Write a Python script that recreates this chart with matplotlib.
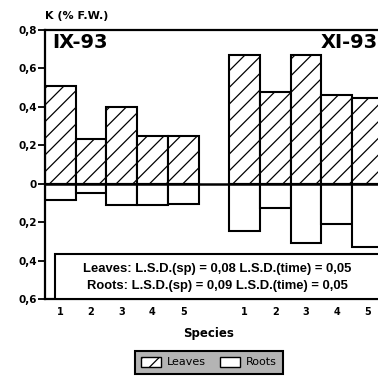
import numpy as np
import matplotlib
matplotlib.use("Agg")
import matplotlib.pyplot as plt
from matplotlib.patches import Rectangle, Patch

species = ["1", "2", "3", "4", "5"]
periods = ["IX-93", "XI-93"]
leaves_ix = [0.51, 0.235, 0.40, 0.25, 0.25]
leaves_xi = [0.67, 0.475, 0.67, 0.46, 0.445]
roots_ix = [-0.087, -0.05, -0.112, -0.112, -0.107]
roots_xi = [-0.245, -0.128, -0.31, -0.21, -0.33]
yticks = [-0.6, -0.4, -0.2, 0, 0.2, 0.4, 0.6, 0.8]
ytick_labels = ["0,6", "0,4", "0,2", "0", "0,2", "0,4", "0,6", "0,8"]
lsd_lines = ["Leaves: L.S.D.(sp) = 0,08 L.S.D.(time) = 0,05",
             "Roots: L.S.D.(sp) = 0,09 L.S.D.(time) = 0,05"]

plt.rcParams["hatch.linewidth"] = 0.9
bold = dict(fontweight="bold", family="DejaVu Sans")

fig = plt.figure(figsize=(3.78, 3.76), dpi=100)
ax = fig.add_axes([45 / 378, 77 / 376, 347 / 378, 269 / 376])

x_ix = np.arange(5) + 0.5
x_xi = np.arange(5) + 6.5
x_all = np.concatenate([x_ix, x_xi])
leaves = leaves_ix + leaves_xi
roots = roots_ix + roots_xi

ax.bar(x_all, leaves, width=1.0, color="white", edgecolor="black",
       linewidth=1.5, hatch="//", label="Leaves")
ax.bar(x_all, roots, width=1.0, color="white", edgecolor="black",
       linewidth=1.5, label="Roots")
ax.axhline(0, color="black", linewidth=1.8, zorder=3)

ax.set_xlim(0, 11.3)
ax.set_ylim(-0.6, 0.8)
ax.set_yticks(yticks)
ax.set_yticklabels(ytick_labels, fontsize=7.5, **bold)
ax.set_xticks(x_all)
ax.set_xticklabels(species * 2, fontsize=7, **bold)
ax.tick_params(axis="x", length=0, pad=6)
ax.tick_params(axis="y", length=5, width=1.3, pad=1)
for side in ["top", "left", "bottom"]:
    ax.spines[side].set_linewidth(1.6)
ax.spines["right"].set_visible(False)

ax.text(0.22, 0.735, periods[0], fontsize=14, va="center", ha="left", **bold)
ax.text(10.85, 0.735, periods[1], fontsize=14, va="center", ha="right", **bold)

box = Rectangle((0.33, -0.6), 12, 0.235, facecolor="white",
                edgecolor="black", linewidth=1.5, zorder=4)
ax.add_patch(box)
ax.text(5.6, -0.445, lsd_lines[0], fontsize=9.4, ha="center", va="center",
        fontweight="bold", family=["Liberation Sans", "DejaVu Sans"],
        zorder=5)
ax.text(5.6, -0.532, lsd_lines[1], fontsize=9.4, ha="center", va="center",
        fontweight="bold", family=["Liberation Sans", "DejaVu Sans"],
        zorder=5)

fig.text(45 / 378, 1 - 16 / 376, "K (% F.W.)", fontsize=8, va="center",
         ha="left", **bold)
fig.text(209 / 378, 1 - 334 / 376, "Species", fontsize=8.5, va="center",
         ha="center", **bold)

handles = [Patch(facecolor="white", edgecolor="black", hatch="//", label="Leaves"),
           Patch(facecolor="white", edgecolor="black", label="Roots")]
leg = fig.legend(handles=handles, loc="center", bbox_to_anchor=(209 / 378, 1 - 362 / 376),
                 ncol=2, fontsize=8, frameon=True, fancybox=False,
                 handlelength=1.8, handleheight=1.0, columnspacing=1.3,
                 handletextpad=0.5, borderpad=0.55)
leg.get_frame().set_facecolor("#b4b4b4")
leg.get_frame().set_edgecolor("black")
leg.get_frame().set_linewidth(1.5)
leg.get_frame().set_alpha(1)

fig.savefig("out.png", dpi=100)
